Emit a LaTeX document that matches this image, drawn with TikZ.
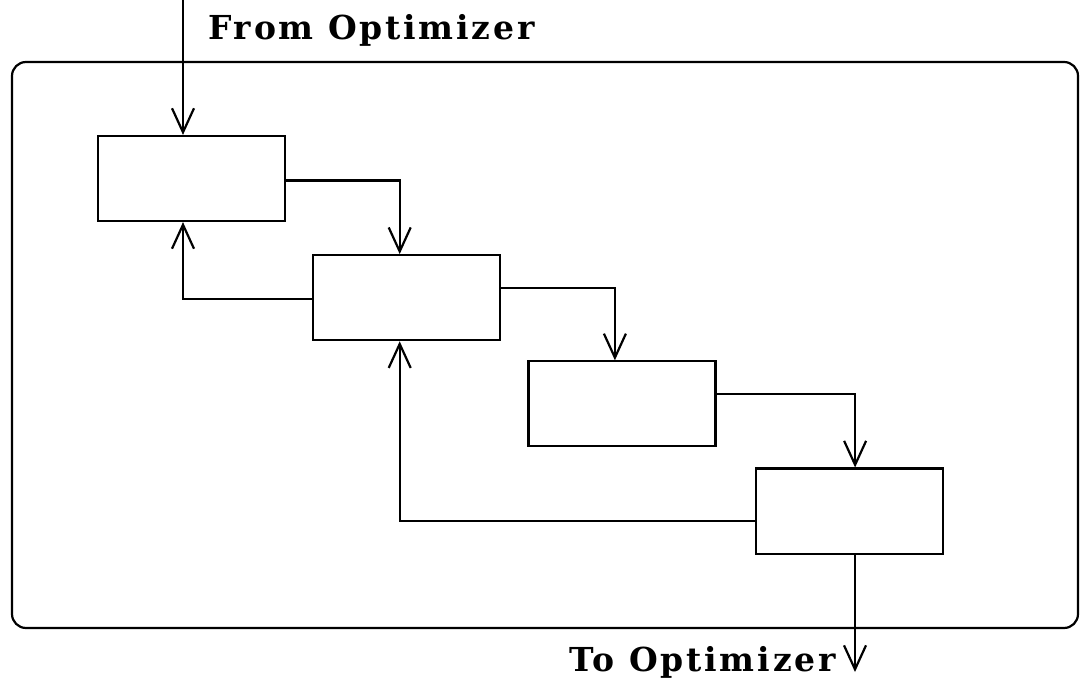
\documentclass[tikz,border=0pt]{standalone}
\usepackage{fontspec}
\newfontfamily\labelfont[LetterSpace=8.5]{DejaVu Serif}
\usetikzlibrary{arrows.meta, positioning}
\tikzstyle{block} = [rectangle, minimum width=187pt, minimum height=85pt, draw=black, line width=2.2pt, inner sep=0pt]
\tikzstyle{frame} = [rectangle, rounded corners=14pt, draw=black, line width=2.2pt]
\tikzstyle{arrow} = [line width=2.2pt, -{Straight Barb[length=24pt, width=22pt]}]
\tikzstyle{tag} = [font=\labelfont\bfseries\fontsize{33}{38}\selectfont, inner sep=0pt]
\begin{document}
\begin{tikzpicture}[x=1pt, y=1pt]
    \useasboundingbox (0,0) rectangle (1084,683);
    % Enclosing frame
    \node (sys) [frame, minimum width=1066pt, minimum height=566pt] at (545,338) {};

    % Blocks - staircase down to the right
    \node (b1) [block] at (191.5,504.5) {};
    \node (b2) [block, below right=32pt and 26pt of b1] {};
    \node (b3) [block, below right=19pt and 26pt of b2] {};
    \node (b4) [block, below right=20pt and 38pt of b3] {};

    % Ends outside the frame
    \coordinate (in) at (183,683);
    \coordinate (out) at (855,11);

    % Arrows
    \draw [arrow] (in) -- (in |- b1.north);
    \draw [arrow] ([yshift=-2pt]b1.east) -| ([xshift=-7pt]b2.north);
    \draw [arrow] ([yshift=-1.5pt]b2.west) -| ([xshift=-8.5pt]b1.south);
    \draw [arrow] ([yshift=10pt]b2.east) -| ([xshift=-7pt]b3.north);
    \draw [arrow] ([yshift=10pt]b3.east) -| ([xshift=6pt]b4.north);
    \draw [arrow] ([yshift=-10pt]b4.west) -| ([xshift=-7pt]b2.south);
    \draw [arrow] (out |- b4.south) -- (out);

    % Labels
    \node (from) [tag, anchor=west] at (208,653) {From Optimizer};
    \node (to) [tag, anchor=east] at (836,21) {To Optimizer};
\end{tikzpicture}
\end{document}
